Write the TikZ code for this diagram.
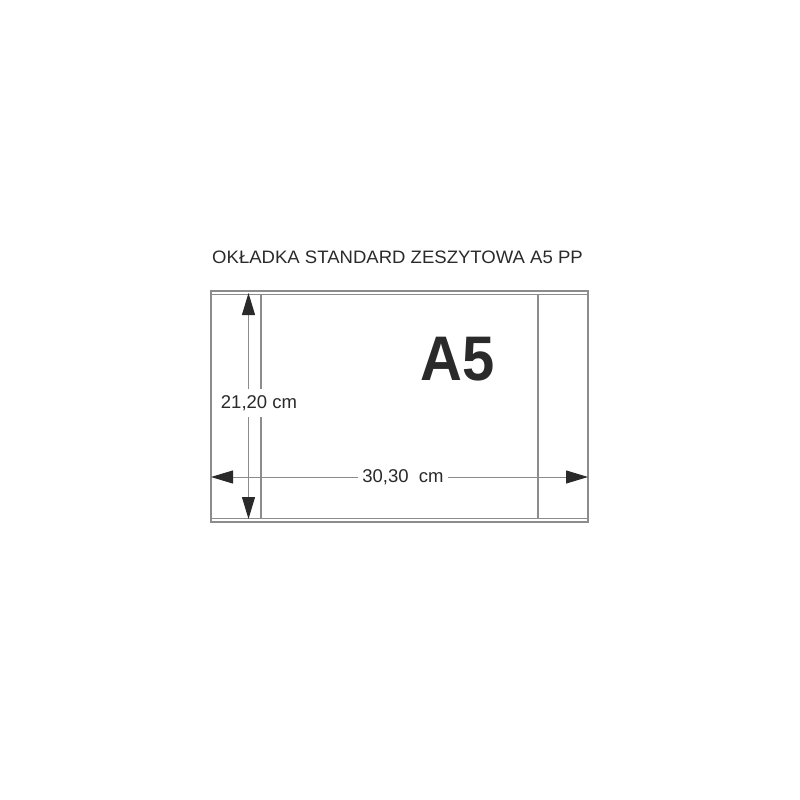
\documentclass[tikz,border=0pt]{standalone}
\usepackage{fontspec}
\setmainfont{Liberation Sans}
\usetikzlibrary{arrows.meta}
\definecolor{frame}{HTML}{8C8C8C}
\definecolor{ink}{HTML}{2A2A2A}
\tikzset{
  frameline/.style={draw=frame, line width=1.3pt},
  dimline/.style={draw=frame, line width=1pt, {Triangle[length=22pt,width=13pt,color=ink,fill=ink]}-{Triangle[length=22pt,width=13pt,color=ink,fill=ink]}},
  dimlabel/.style={fill=white, inner sep=3pt, text=ink, font=\fontsize{18.5}{20}\selectfont}
}
\begin{document}
\begin{tikzpicture}[x=1pt,y=-1pt]
\useasboundingbox (0,0) rectangle (800,800);
% frame
\coordinate (TL) at (211,291);
\coordinate (BR) at (588,522);
\draw[frameline] (TL) rectangle (BR);
\draw[frameline] (211,294.5) -- (588,294.5);
\draw[frameline] (211,518.5) -- (588,518.5);
\draw[frameline] (261,294.5) -- (261,518.5);
\draw[frameline] (538,294.5) -- (538,518.5);
% dimension arrows
\coordinate (vt) at (248.5,293);
\coordinate (vb) at (248.5,519);
\coordinate (hl) at (211,477);
\coordinate (hr) at (588,477);
\draw[dimline] (vt) -- (vb);
\draw[dimline] (hl) -- (hr);
\node[dimlabel, inner xsep=4pt] (w) at (403,477) {30,30\ \ cm};
\node[dimlabel, inner ysep=6pt] (h) at (259,403) {21,20 cm};
% texts
\node[text=ink, font=\fontsize{18}{20}\selectfont, inner sep=0pt, xscale=1.03] (title) at (397.5,257) {OKŁADKA STANDARD ZESZYTOWA A5 PP};
\node[text=ink, font=\bfseries\fontsize{63}{70}\selectfont, inner sep=0pt, xscale=0.92] (a5) at (457.5,359.5) {A5};
\end{tikzpicture}
\end{document}
